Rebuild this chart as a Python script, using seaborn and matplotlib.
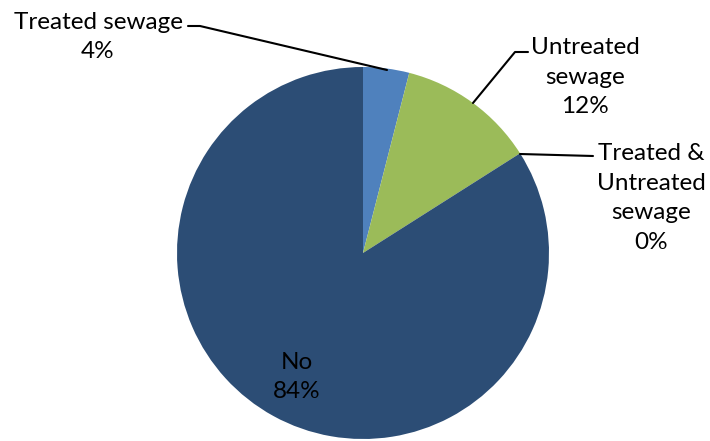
import matplotlib
matplotlib.use("Agg")
import matplotlib.pyplot as plt
import seaborn as sns

sns.set_theme(style="white")
plt.rcParams["font.family"] = ["Lato", "DejaVu Sans"]

categories = ["Treated sewage", "Untreated sewage", "Treated & Untreated sewage", "No"]
label_names = ["Treated sewage", "Untreated\nsewage", "Treated &\nUntreated\nsewage", "No"]
shares = [4, 12, 0, 84]
colors = ["#4F81BD", "#9BBB59", "#C0504D", "#2C4D75"]

W, H = 710, 441
fig = plt.figure(figsize=(W / 100, H / 100), dpi=100)
ax = fig.add_axes([0, 0, 1, 1])

cx, cy, r = 363, H - 253, 186
ax.pie(shares, colors=colors, startangle=90, counterclock=False,
       center=(cx, cy), radius=r, frame=True,
       wedgeprops=dict(linewidth=0))
ax.set_xlim(0, W)
ax.set_ylim(0, H)
ax.set_aspect("equal")
ax.axis("off")

fs = 17.5
ls = 1.52

def label(i, x, y):
    ax.text(x, H - y, f"{label_names[i]}\n{shares[i]}%", ha="center", va="center",
            fontsize=fs, color="black", linespacing=ls)

label(0, 98, 37)
label(1, 585, 77)
label(2, 651, 198)
label(3, 297, 377)

# leader lines
lw = 1.5
ax.plot([188, 200, 387], [H - 26, H - 26, H - 70], color="black", lw=lw)
ax.plot([528, 515, 473], [H - 52, H - 52, H - 103], color="black", lw=lw)
ax.plot([593, 520], [H - 156, H - 154], color="black", lw=lw)

fig.savefig("out.png", dpi=100)
